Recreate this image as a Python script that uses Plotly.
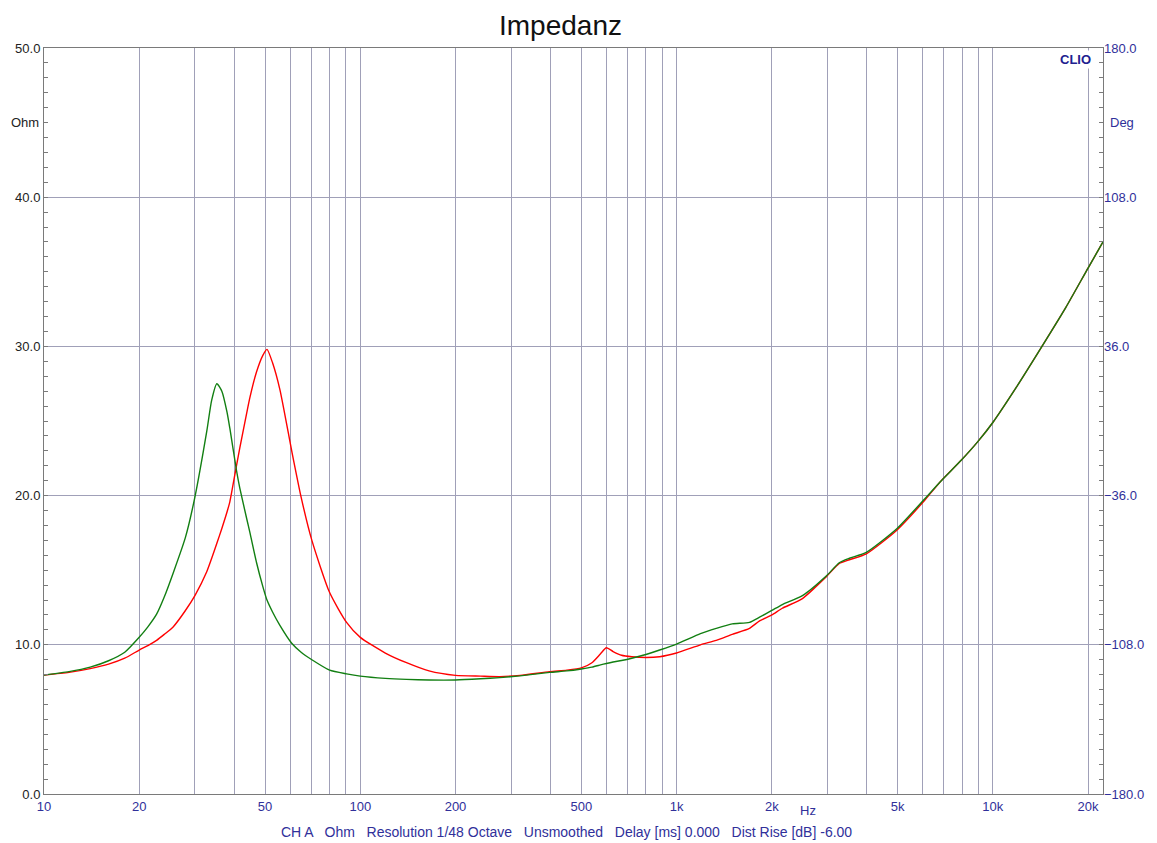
import math
import plotly.graph_objects as go

# ---------------- data ----------------
freq_hz = [10, 12, 14, 16, 18, 20, 21.3, 22.7, 24, 25.6, 28, 30, 32.7, 33.9, 35.2, 36.5, 37.9, 38.7, 40.6, 41.6,
           43.8, 44.8, 47, 49.2, 50.7, 52.8, 55.7, 60.7, 65, 70.3, 80, 90.5, 100, 120, 140,
           165, 200, 240, 276, 320, 397, 450, 500, 540, 575, 600, 630, 670, 722, 800, 884,
           1000, 1190, 1335, 1500, 1700, 1830, 2000, 2160, 2500, 2985, 3270, 3520, 3980,
           4980, 6040, 6800, 7970, 8950, 10000, 11900, 14300, 17000, 20000, 22300]

z_red = [7.97, 8.15, 8.4, 8.7, 9.1, 9.65, 9.95, 10.3, 10.7, 11.2, 12.3, 13.3, 14.9, 15.8, 16.8, 17.8, 18.9, 19.6, 22.0, 23.2,
         25.6, 26.6, 28.3, 29.4, 29.8, 28.9, 27.1, 23.0, 19.9, 17.0, 13.5, 11.5, 10.5, 9.45, 8.8,
         8.25, 7.95, 7.9, 7.87, 7.95, 8.2, 8.3, 8.45, 8.8, 9.4, 9.8, 9.55, 9.3, 9.2, 9.15, 9.2,
         9.45, 10.0, 10.3, 10.7, 11.1, 11.6, 12.0, 12.45, 13.1, 14.6, 15.45, 15.7, 16.1,
         17.7, 19.6, 20.9, 22.4, 23.6, 24.9, 27.3, 30.0, 32.6, 35.25, 37.0]

z_green = [7.97, 8.2, 8.5, 8.93, 9.5, 10.5, 11.2, 12.05, 13.2, 14.8, 17.2, 19.9, 24.3, 26.4, 27.5, 27.0, 25.6, 24.5, 21.7, 20.5,
           18.4, 17.5, 15.5, 13.9, 13.0, 12.2, 11.3, 10.1, 9.5, 9.0, 8.3, 8.05, 7.9, 7.75, 7.68,
           7.64, 7.64, 7.72, 7.8, 7.92, 8.15, 8.25, 8.38, 8.5, 8.65, 8.75, 8.85, 8.95, 9.1, 9.35, 9.65,
           10.05, 10.75, 11.1, 11.4, 11.5, 11.85, 12.3, 12.7, 13.3, 14.65, 15.5, 15.8, 16.2,
           17.8, 19.7, 20.9, 22.4, 23.6, 24.9, 27.3, 30.0, 32.6, 35.25, 37.0]

x_grid_vals = [20, 30, 40, 50, 60, 70, 80, 90, 100, 200, 300, 400, 500, 600, 700, 800, 900,
               1000, 2000, 3000, 4000, 5000, 6000, 7000, 8000, 9000, 10000, 20000]
x_labels = {10: "10", 20: "20", 50: "50", 100: "100", 200: "200", 500: "500",
            1000: "1k", 2000: "2k", 5000: "5k", 10000: "10k", 20000: "20k"}

title_text = "Impedanz"
footer_text = "CH A   Ohm   Resolution 1/48 Octave   Unsmoothed   Delay [ms] 0.000   Dist Rise [dB] -6.00"

# ---------------- figure ----------------
PAGE_W, PAGE_H = 1157, 843
OFF = 8  # default page body margin
L, R, T, B = 44, 1103, 48, 794   # plot area in page pixels
pw, ph = R - L, B - T
W, H = PAGE_W - OFF, PAGE_H - OFF

def px(xp):
    return (xp - L) / pw

def py(yp):
    return (B - yp) / ph

FONT = "Liberation Sans, Arial, sans-serif"
BLUE = "#30309a"
GRID = "#a0a0b8"
FRAME = "#7a7a7a"

fig = go.Figure()
fig.add_trace(go.Scatter(x=freq_hz, y=z_red, mode="lines",
                         line=dict(color="#ff0000", width=1.4, shape="spline", smoothing=0.6),
                         showlegend=False, hoverinfo="skip"))
fig.add_trace(go.Scatter(x=freq_hz, y=z_green, mode="lines",
                         line=dict(color="#127f12", width=1.4, shape="spline", smoothing=0.6),
                         showlegend=False, hoverinfo="skip"))
# invisible trace to anchor the phase axis
fig.add_trace(go.Scatter(x=[freq_hz[0]], y=[0], yaxis="y2", mode="markers",
                         marker=dict(opacity=0), showlegend=False, hoverinfo="skip"))

tickvals = [10] + x_grid_vals
ticktext = [x_labels.get(v, "") for v in tickvals]

fig.update_layout(
    width=W, height=H,
    margin=dict(l=L - OFF, r=PAGE_W - R, t=T - OFF, b=PAGE_H - B, autoexpand=False),
    paper_bgcolor="white", plot_bgcolor="white",
    font=dict(family=FONT, size=13, color="#222222"),
    xaxis=dict(type="log", range=[1, math.log10(22300)],
               tickvals=tickvals, ticktext=ticktext,
               showgrid=True, gridcolor=GRID, gridwidth=1,
               ticks="", showline=True, linecolor=FRAME, linewidth=1, mirror=True,
               tickfont=dict(color=BLUE, size=13), zeroline=False, automargin=False),
    yaxis=dict(range=[0, 50], dtick=10, tick0=0, tickformat=".1f",
               showgrid=True, gridcolor=GRID, gridwidth=1, zeroline=False,
               ticks="inside", ticklen=4, tickcolor=FRAME,
               minor=dict(ticks="inside", ticklen=4, dtick=1, tickcolor=FRAME, showgrid=False),
               showline=True, linecolor=FRAME, linewidth=1, mirror=True,
               tickfont=dict(color="#222222", size=13), automargin=False),
    yaxis2=dict(range=[-180, 180], dtick=72, tick0=-180, tickformat=".1f",
                overlaying="y", side="right", showgrid=False, zeroline=False,
                ticks="inside", ticklen=4, tickcolor=FRAME,
                minor=dict(ticks="inside", ticklen=4, dtick=7.2, tick0=-180, tickcolor=FRAME, showgrid=False),
                showline=False, tickfont=dict(color=BLUE, size=13), automargin=False),
)

fig.add_annotation(x=px(560), y=py(25), xref="paper", yref="paper", text=title_text,
                   showarrow=False, font=dict(family=FONT, size=28, color="#111111"),
                   xanchor="center", yanchor="middle")
fig.add_annotation(x=px(566), y=py(832), xref="paper", yref="paper", text=footer_text,
                   showarrow=False, font=dict(family=FONT, size=14, color=BLUE),
                   xanchor="center", yanchor="middle")
fig.add_annotation(x=px(808), y=py(810), xref="paper", yref="paper", text="Hz",
                   showarrow=False, font=dict(family=FONT, size=13, color=BLUE),
                   xanchor="center", yanchor="middle")
fig.add_annotation(x=px(1075), y=py(59), xref="paper", yref="paper", text="<b>CLIO</b>",
                   showarrow=False, font=dict(family=FONT, size=13, color="#20208f"),
                   xanchor="center", yanchor="middle", bgcolor="white")
fig.add_annotation(x=px(41), y=0.9, xref="paper", yref="paper", text="Ohm",
                   showarrow=False, font=dict(family=FONT, size=13, color="#222222"),
                   xanchor="right", yanchor="middle")
fig.add_annotation(x=px(1108), y=0.9, xref="paper", yref="paper", text="Deg",
                   showarrow=False, font=dict(family=FONT, size=13, color=BLUE),
                   xanchor="left", yanchor="middle")

fig.write_html("out.html")
